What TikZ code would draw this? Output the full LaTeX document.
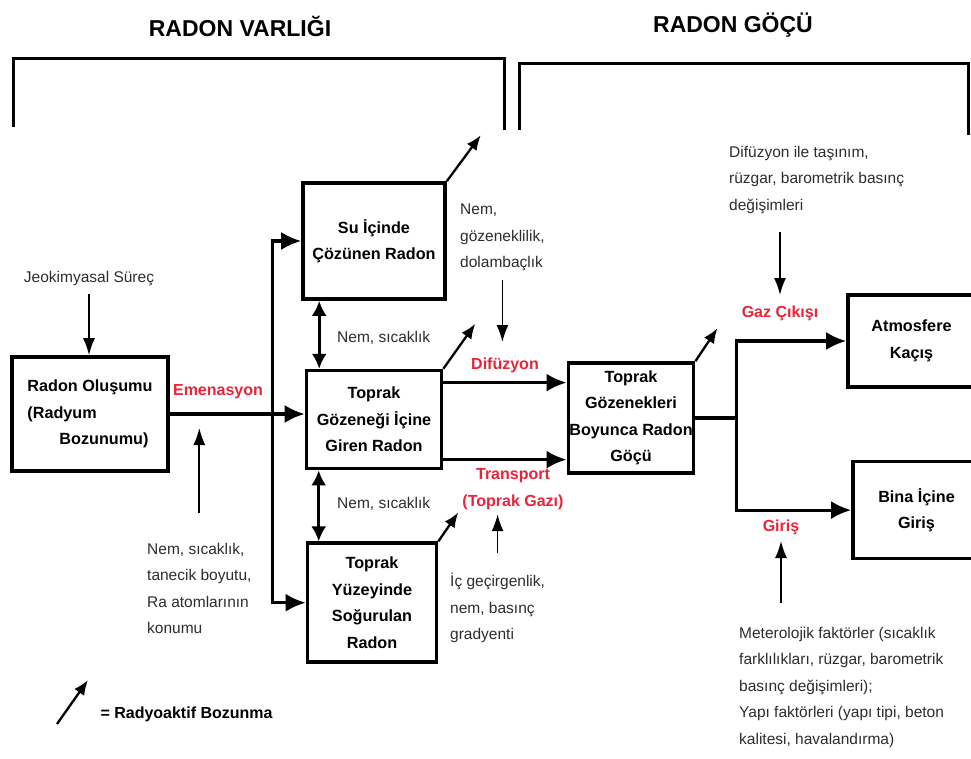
\documentclass[tikz,border=0pt]{standalone}
\usepackage{fontspec}
\setmainfont{Liberation Sans}
\usetikzlibrary{arrows.meta, positioning}
\definecolor{radonred}{RGB}{232,36,56}
\definecolor{notegray}{RGB}{45,45,45}

\begin{document}
\begin{tikzpicture}[
  x=1pt, y=-1pt,
  mybox/.style={
    draw,
    rectangle,
    line width=3.6pt,
    align=center,
    inner sep=1pt,
    font=\bfseries\fontsize{16.2}{26.5}\selectfont
    },
  mytitle/.style={font=\bfseries\fontsize{23}{28}\selectfont},
  mynote/.style={align=left, inner sep=0pt, text=notegray, font=\fontsize{15.5}{26.5}\selectfont},
  mylabel/.style={align=center, text=radonred, font=\bfseries\fontsize{16}{27}\selectfont},
  myarrow/.style={line width=3.2pt, -{Latex[length=20pt,width=18pt]}},
  mythin/.style={line width=1.7pt, -{Latex[length=17pt,width=12pt]}},
  mydecay/.style={line width=2.3pt, -{Latex[length=15pt,width=12pt]}},
  mydouble/.style={line width=2.8pt, {Latex[length=15pt,width=15pt]}-{Latex[length=15pt,width=15pt]}},
  mybracket/.style={line width=3pt}
]

\path[use as bounding box, fill=white] (0,0) rectangle (971,758);

\node[mytitle] (varlik) at (240,26) {RADON VARLIĞI};
\node[mytitle] (gocbaslik) at (733,25) {RADON GÖÇÜ};
\draw[mybracket] (13,127) |- (504,58) -- (504,130);
\draw[mybracket] (519,130) |- (968,63) -- (968,135);

\node[mybox, align=left, minimum width=156pt, minimum height=114pt] (olusum) at (90,414)
  {Radon Oluşumu\\(Radyum\\\hspace*{32pt}Bozunumu)};
\node[mybox, minimum width=142pt, minimum height=116pt] (su) at (374,241)
  {Su İçinde\\Çözünen Radon};
\node[mybox, minimum width=135pt, minimum height=98pt, below=68pt of su] (gozenek)
  {Toprak\\Gözeneği İçine\\Giren Radon};
\node[mybox, minimum width=129pt, minimum height=119pt, below=71pt of gozenek, xshift=-2pt] (yuzey)
  {Toprak\\Yüzeyinde\\Soğurulan\\Radon};
\node[mybox, minimum width=124pt, minimum height=110pt] (goc) at (631,418)
  {Toprak\\Gözenekleri\\Boyunca Radon\\Göçü};
\node[mybox, minimum width=127pt, minimum height=92pt] (atmosfer) at (911.5,341)
  {Atmosfere\\Kaçış};
\node[mybox, minimum width=127pt, minimum height=97pt, below=71pt of atmosfer, xshift=5pt] (bina)
  {Bina İçine\\Giriş};

\node[mylabel] (emenasyon) at (218,392) {Emenasyon};
\node[mylabel] (difuzyon) at (505,365) {Difüzyon};
\node[mylabel] (transport) at (513,489) {Transport\\(Toprak Gazı)};
\node[mylabel] (gazcikis) at (780,313) {Gaz Çıkışı};
\node[mylabel] (giris) at (781,527) {Giriş};

\node[mynote] (jeo) at (89,279) {Jeokimyasal Süreç};
\node[mynote, anchor=north west] (tanecik) at (147,543)
  {Nem, sıcaklık,\\tanecik boyutu,\\Ra atomlarının\\konumu};
\node[mynote, anchor=west] (sicak1) at (337,338) {Nem, sıcaklık};
\node[mynote, anchor=west] (sicak2) at (337,504) {Nem, sıcaklık};
\node[mynote, anchor=north west] (gozeneklilik) at (460,204)
  {Nem,\\gözeneklilik,\\dolambaçlık};
\node[mynote, anchor=north west] (gecirgen) at (450,573)
  {İç geçirgenlik,\\nem, basınç\\gradyenti};
\node[mynote, anchor=north west] (tasinim) at (729,146)
  {Difüzyon ile taşınım,\\rüzgar, barometrik basınç\\değişimleri};
\node[mynote, anchor=north west] (meteo) at (739,627)
  {Meterolojik faktörler (sıcaklık\\farklılıkları, rüzgar, barometrik\\basınç değişimleri);\\Yapı faktörleri (yapı tipi, beton\\kalitesi, havalandırma)};

\draw[myarrow] (olusum.east) -- ++(103,0) coordinate (ayrim) -- (olusum.east -| gozenek.west);
\draw[myarrow] (ayrim) |- (su.west);
\draw[myarrow] (ayrim) |- (yuzey.west);

\draw[mydouble] (su.south west) ++(18,0) coordinate (s1) -- (s1 |- gozenek.north);
\draw[mydouble] (gozenek.south west) ++(14,0) coordinate (s2) -- (s2 |- yuzey.north);

\draw[myarrow] (gozenek.east) ++(0,-37) coordinate (d1) -- (d1 -| goc.west);
\draw[myarrow] (gozenek.east) ++(0,40) coordinate (d2) -- (d2 -| goc.west);

\draw[line width=3.2pt] (goc.east) -- ++(41,0) coordinate (catal);
\draw[myarrow] (catal) |- (atmosfer.west);
\draw[myarrow] (catal) |- (bina.west);

\draw[mydecay] (su.north east) -- ++(34,-46);
\draw[mydecay] (gozenek.north east) -- ++(32,-45);
\draw[mydecay] (yuzey.north east) -- ++(20,-29);
\draw[mydecay] (goc.north east) -- ++(22,-33);

\draw[mythin, shorten <=8pt] (jeo.south) -- (olusum.north -| jeo.south);
\draw[mythin] (tanecik.north) ++(0,-30) -- ++(0,-85);
\draw[mythin, shorten <=9pt, shorten >=12pt] (gozeneklilik.south) -- (gozeneklilik.south |- difuzyon.north);
\draw[mythin, shorten <=20pt, shorten >=1pt] (gecirgen.north) -- (gecirgen.north |- transport.south);
\draw[mythin, shorten <=18pt, shorten >=7pt] (gazcikis.north |- tasinim.south) -- (gazcikis.north);
\draw[mythin, shorten <=24pt, shorten >=3pt] (giris.south |- meteo.north) -- (giris.south);

\coordinate (lejant) at (57,724);
\draw[mydecay] (lejant) -- ++(31,-44);
\node[anchor=west, font=\bfseries\fontsize{16}{20}\selectfont] (lejanttext) at (97,714) {= Radyoaktif Bozunma};

\end{tikzpicture}
\end{document}
